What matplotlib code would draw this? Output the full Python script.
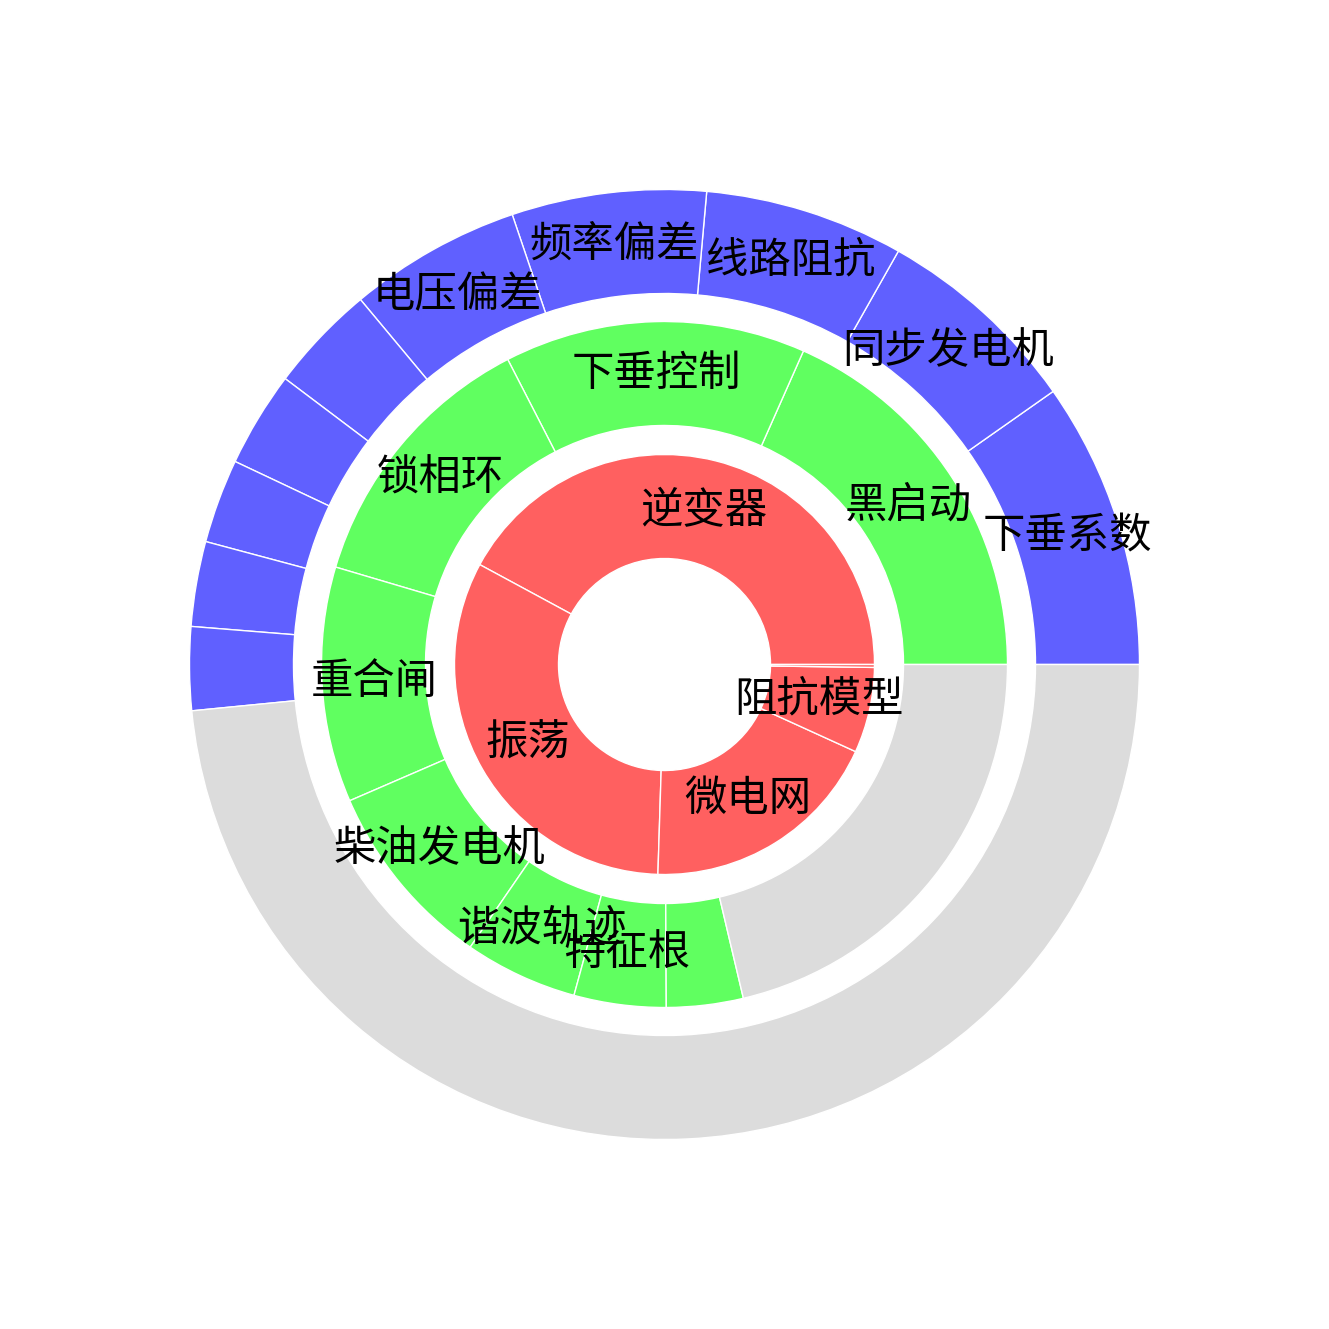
import numpy as np
import matplotlib.pyplot as plt

plt.rcParams['font.family'] = ['Noto Sans CJK SC', 'DejaVu Sans']

# inner ring
inner_labels = ['逆变器', '振荡', '微电网', '阻抗模型', '']
inner_values = [151.6, 116.6, 67.3, 23.7, 0.8]

# middle ring (last value is the unfilled remainder)
middle_labels = ['黑启动', '下垂控制', '锁相环', '重合闸', '柴油发电机', '谐波轨迹', '特征根', '', '']
middle_values = [66.1, 51.1, 46.3, 39.9, 32.1, 19.2, 15.6, 13.0, 76.7]

# outer ring (last value is the unfilled remainder)
outer_labels = ['下垂系数', '同步发电机', '线路阻抗', '频率偏差', '电压偏差', '', '', '', '', '', '']
outer_values = [35.1, 25.4, 24.4, 23.8, 21.1, 13.2, 11.7, 10.3, 10.4, 10.2, 174.4]

RED = '#ff6060'
GREEN = '#60ff60'
BLUE = '#6060ff'
GRAY = '#dcdcdc'


def main():
    fig = plt.figure(figsize=(13.29, 13.29), dpi=100)
    ax = fig.add_axes([0, 0, 1, 1])

    width = 104 / 475
    rings = [
        (inner_values, inner_labels, 210 / 475, [RED] * len(inner_values)),
        (middle_values, middle_labels, 343 / 475, [GREEN] * (len(middle_values) - 1) + [GRAY]),
        (outer_values, outer_labels, 1.0, [BLUE] * (len(outer_values) - 1) + [GRAY]),
    ]

    for values, labels, radius, colors in rings:
        wedges, _ = ax.pie(values, radius=radius, colors=colors, startangle=0,
                           counterclock=True,
                           wedgeprops=dict(width=width, edgecolor='white', linewidth=1))
        r_mid = radius - width / 2
        for w, lab in zip(wedges, labels):
            if not lab:
                continue
            ang = np.deg2rad((w.theta1 + w.theta2) / 2)
            ax.text(r_mid * np.cos(ang), r_mid * np.sin(ang), lab,
                    ha='center', va='center', fontsize=30.5, color='black')

    lim = 664.5 / 475
    ax.set_xlim(-lim, lim)
    ax.set_ylim(-lim, lim)
    ax.set_aspect('equal')
    ax.axis('off')

    fig.savefig('out.png', dpi=100)


if __name__ == "__main__":
    main()
